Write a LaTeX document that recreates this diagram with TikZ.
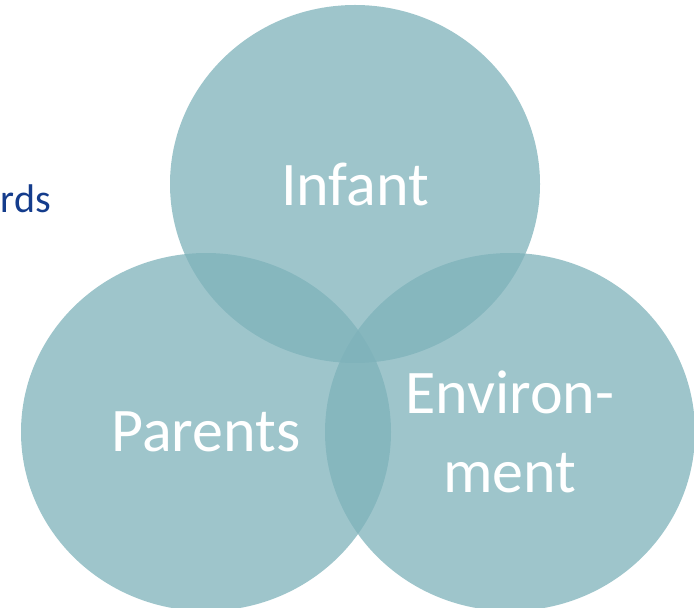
\documentclass[tikz,border=0pt]{standalone}
\usepackage{fontspec}
\setmainfont{Carlito}
\usepackage{tikz}
\usetikzlibrary{shapes}
\definecolor{venn}{RGB}{126,178,186}
\definecolor{titleblue}{RGB}{20,60,140}
\tikzstyle{node_venn} = [ellipse, fill=venn, fill opacity=0.75, text opacity=1, text=white, inner sep=0pt, minimum width=185pt, minimum height=179pt, align=center, font=\fontsize{31}{39.5}\selectfont]
\tikzstyle{node_title} = [anchor=base west, text=titleblue, inner sep=0pt, font=\fontsize{20}{24}\selectfont]

\begin{document}
\begin{tikzpicture}[x=0.5pt, y=-0.5pt]
			\useasboundingbox (0,0) rectangle (694,608);
			\clip (0,0) rectangle (694,608);
			\node (T) at (0.5,213) [node_title] {rds};
			\node (IN) at (355,184) [node_venn] {Infant};
			\node (PA) at (206,432) [node_venn] {Parents};
			\node (EN) at (510,432) [node_venn] {Environ-\\ment};
		\end{tikzpicture}
\end{document}
